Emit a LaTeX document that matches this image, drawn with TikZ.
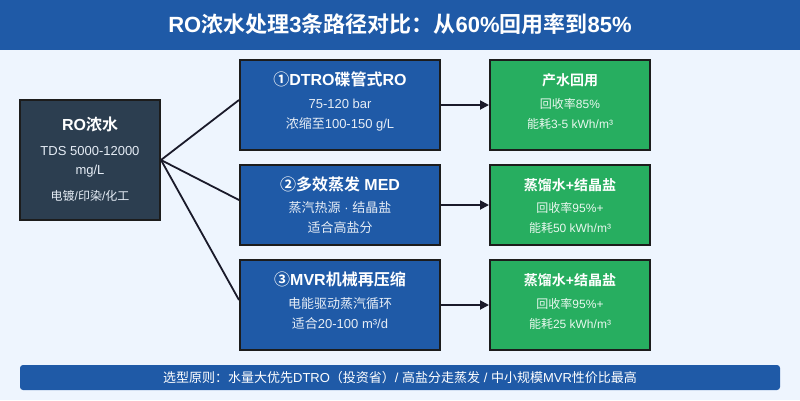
\documentclass[tikz,border=0pt]{standalone}
\usepackage{fontspec}
\usetikzlibrary{arrows.meta}
\setmainfont{Liberation Sans}
\newfontfamily\cjkfam{Noto Sans CJK SC}[BoldFont={Noto Sans CJK SC Bold}]
\newXeTeXintercharclass\mycjk
\makeatletter
\def\setcjkrange#1#2{\count@=#1\relax
  \loop\XeTeXcharclass\count@=\mycjk\relax\advance\count@ by 1\relax
  \ifnum\count@<#2\relax\repeat}
\setcjkrange{"2460}{"2500}
\setcjkrange{"3000}{"3040}
\setcjkrange{"4E00}{"A000}
\setcjkrange{"FF00}{"FFF0}
\makeatother
\XeTeXinterchartoks 0 \mycjk = {\cjkfam}
\XeTeXinterchartoks 4095 \mycjk = {\cjkfam}
\XeTeXinterchartoks \mycjk 0 = {\rmfamily}
\XeTeXinterchartoks \mycjk 4095 = {\rmfamily}
\XeTeXinterchartoks 4095 0 = {\rmfamily}
\AtBeginDocument{\XeTeXinterchartokenstate=1 }
\definecolor{bgc}{HTML}{EEF5FE}
\definecolor{bluec}{HTML}{1F5AA7}
\definecolor{darkc}{HTML}{2C3E50}
\definecolor{greenc}{HTML}{27AE60}
\definecolor{edgec}{HTML}{1C1C1C}
\definecolor{linec}{HTML}{1A1A2A}
\definecolor{subw}{HTML}{E6EDF6}
\definecolor{subg}{HTML}{E8F7EE}
\tikzset{
  boxbase/.style={draw=edgec, line width=2pt, inner sep=0pt},
  darkbox/.style={boxbase, fill=darkc, minimum width=140pt, minimum height=120pt},
  bluebox/.style={boxbase, fill=bluec, minimum width=200pt},
  greenbox/.style={boxbase, fill=greenc, minimum width=160pt},
  ttl/.style={text=white, font=\bfseries\fontsize{16}{18}\selectfont, inner sep=0pt},
  gttl/.style={text=white, font=\bfseries\fontsize{14}{16}\selectfont, inner sep=0pt},
  sub/.style={text=subw, font=\fontsize{13}{15}\selectfont, inner sep=0pt},
  gsub/.style={text=subg, font=\fontsize{12}{14}\selectfont, inner sep=0pt},
  conn/.style={draw=linec, line width=1.8pt},
  arr/.style={draw=linec, line width=1.8pt, -{Triangle[length=9pt,width=9pt]}},
}
\begin{document}
\begin{tikzpicture}[x=1pt,y=-1pt]
\fill[bgc] (0,0) rectangle (800,400);
\useasboundingbox (0,0) rectangle (800,400);
\fill[bluec] (0,0) rectangle (800,50);
\node[text=white, font=\bfseries\fontsize{22}{25}\selectfont, inner sep=0pt] (title) at (400,24) {RO浓水处理3条路径对比：从60\%回用率到85\%};

% source box
\node[darkbox] (ro) at (90,160) {};
\node[ttl] (rot) at (90,124) {RO浓水};
\node[sub] (roa) at (90,151) {TDS 5000-12000};
\node[sub] (rob) at (90,171) {mg/L};
\node[sub, font=\fontsize{12}{14}\selectfont] (roc) at (90,196) {电镀/印染/化工};

% middle boxes
\node[bluebox, minimum height=90pt] (b1) at (340,105) {};
\node[ttl] (b1t) at (340,79) {①DTRO碟管式RO};
\node[sub] (b1a) at (340,104) {75-120 bar};
\node[sub] (b1b) at (340,124) {浓缩至100-150 g/L};

\node[bluebox, minimum height=80pt] (b2) at (340,205) {};
\node[ttl] (b2t) at (340,184) {②多效蒸发 MED};
\node[sub] (b2a) at (340,208) {蒸汽热源 · 结晶盐};
\node[sub] (b2b) at (340,228) {适合高盐分};

\node[bluebox, minimum height=90pt] (b3) at (340,305) {};
\node[ttl] (b3t) at (340,279) {③MVR机械再压缩};
\node[sub] (b3a) at (340,304) {电能驱动蒸汽循环};
\node[sub] (b3b) at (340,324) {适合20-100 m³/d};

% result boxes
\node[greenbox, minimum height=90pt] (g1) at (570,105) {};
\node[gttl] (g1t) at (570,80) {产水回用};
\node[gsub] (g1a) at (570,104) {回收率85\%};
\node[gsub] (g1b) at (570,124) {能耗3-5 kWh/m³};

\node[greenbox, minimum height=80pt] (g2) at (570,205) {};
\node[gttl] (g2t) at (570,185) {蒸馏水+结晶盐};
\node[gsub] (g2a) at (570,208) {回收率95\%+};
\node[gsub] (g2b) at (570,228) {能耗50 kWh/m³};

\node[greenbox, minimum height=90pt] (g3) at (570,305) {};
\node[gttl] (g3t) at (570,280) {蒸馏水+结晶盐};
\node[gsub] (g3a) at (570,304) {回收率95\%+};
\node[gsub] (g3b) at (570,324) {能耗25 kWh/m³};

% connectors
\draw[conn] (ro.east) -- ([yshift=5pt]b1.west);
\draw[conn] (ro.east) -- ([yshift=5pt]b2.west);
\draw[conn] (ro.east) -- ([yshift=5pt]b3.west);
\draw[arr] (b1.east) -- (g1.west);
\draw[arr] (b2.east) -- (g2.west);
\draw[arr] (b3.east) -- (g3.west);

% footer
\fill[bluec, rounded corners=3pt] (20,365) rectangle (780,390);
\node[text=white, font=\fontsize{13}{15}\selectfont, inner sep=0pt] (foot) at (400,378) {选型原则：水量大优先DTRO（投资省）/ 高盐分走蒸发 / 中小规模MVR性价比最高};
\end{tikzpicture}
\end{document}
